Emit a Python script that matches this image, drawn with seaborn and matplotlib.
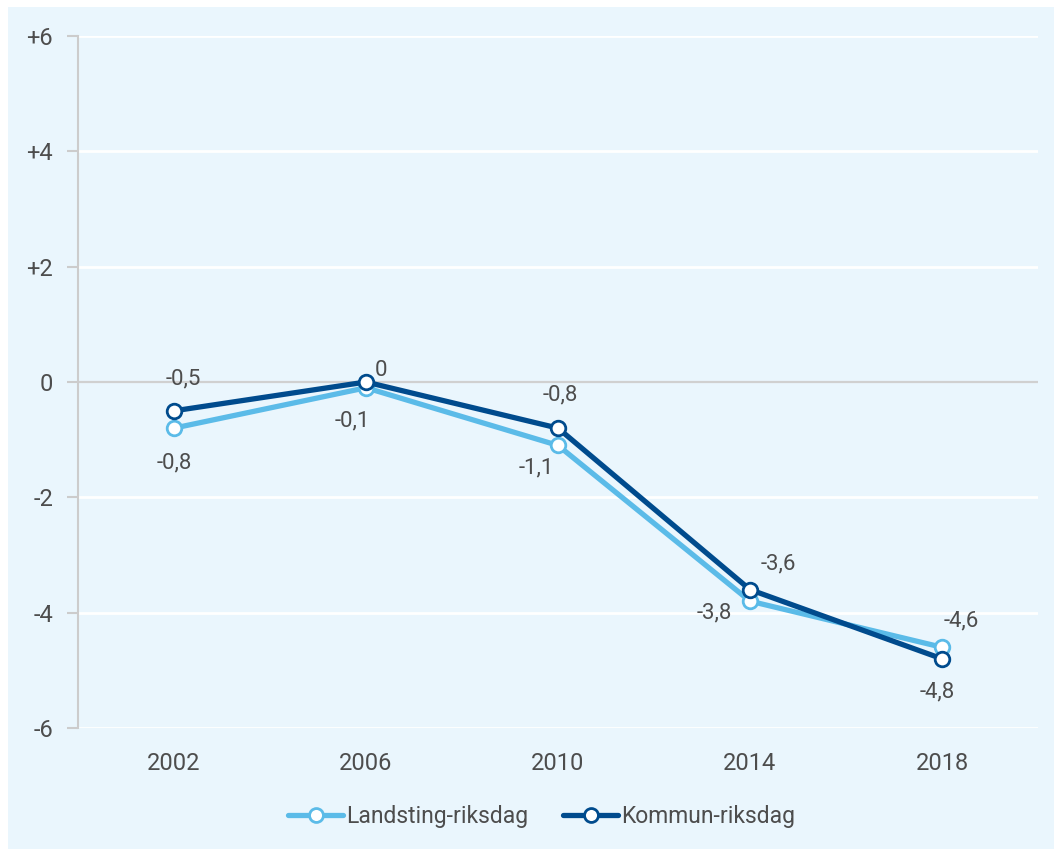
import matplotlib
matplotlib.use("Agg")
import matplotlib.pyplot as plt
from matplotlib.lines import Line2D
from matplotlib.patches import Rectangle
import seaborn as sns
import pandas as pd

years = ["2002", "2006", "2010", "2014", "2018"]
landsting = [-0.8, -0.1, -1.1, -3.8, -4.6]
kommun = [-0.5, 0.0, -0.8, -3.6, -4.8]
labels_landsting = ["-0,8", "-0,1", "-1,1", "-3,8", "-4,6"]
labels_kommun = ["-0,5", "0", "-0,8", "-3,6", "-4,8"]
yticks = [6, 4, 2, 0, -2, -4, -6]
ytick_labels = ["+6", "+4", "+2", "0", "-2", "-4", "-6"]
series_names = ["Landsting-riksdag", "Kommun-riksdag"]

light = "#5BBBE8"
dark = "#004B8D"
bg = "#EAF6FD"
txt = "#4D4D4D"

sns.set_theme(style="white")
plt.rcParams["font.family"] = ["Roboto", "DejaVu Sans"]

fig = plt.figure(figsize=(10.54, 8.49), dpi=100, facecolor="white")
fig.patches.append(Rectangle((8 / 1054, 0), 1 - 8 / 1054, 1 - 7 / 849,
                             transform=fig.transFigure, facecolor=bg,
                             edgecolor="none", zorder=-10))
ax = fig.add_axes([78 / 1054, 1 - 728 / 849, (1038 - 78) / 1054, (728 - 36) / 849])
ax.set_facecolor(bg)

df = pd.DataFrame({
    "year": years * 2,
    "value": landsting + kommun,
    "series": [series_names[0]] * len(years) + [series_names[1]] * len(years),
})

for name, col in zip(series_names, [light, dark]):
    sub = df[df["series"] == name]
    sns.lineplot(data=sub, x="year", y="value", ax=ax, color=col, lw=3.8,
                 marker="o", markersize=10.5, markerfacecolor="white",
                 markeredgecolor=col, markeredgewidth=2.0, sort=False,
                 zorder=3 if name == series_names[1] else 2, legend=False)

ax.set_xlim(-0.5, 4.5)
ax.set_ylim(-6, 6)
ax.set_yticks(yticks)
ax.set_yticklabels(ytick_labels)
ax.set_xlabel("")
ax.set_ylabel("")

for y in yticks:
    if y == 0:
        ax.axhline(0, color="#D0D0D0", lw=1.6, zorder=1)
    else:
        ax.axhline(y, color="white", lw=2.0, zorder=1)

for s in ["top", "right", "bottom"]:
    ax.spines[s].set_visible(False)
ax.spines["left"].set_color("#CCCCCC")
ax.spines["left"].set_linewidth(1.5)
ax.tick_params(axis="y", left=True, length=8, width=1.5, color="#CCCCCC",
               labelsize=17, labelcolor=txt, pad=10)
ax.tick_params(axis="x", bottom=False, labelsize=17, labelcolor=txt, pad=11)

fs = 16
off_l = [(0, -35), (-14, -33), (-22, -23), (-36, -12), (19, 26)]
off_k = [(9, 32), (15, 12), (2, 33), (28, 26), (-5, -33)]
for i, (v, lab, o) in enumerate(zip(landsting, labels_landsting, off_l)):
    ax.annotate(lab, (i, v), xytext=o, textcoords="offset pixels",
                ha="center", va="center", fontsize=fs, color=txt)
for i, (v, lab, o) in enumerate(zip(kommun, labels_kommun, off_k)):
    ax.annotate(lab, (i, v), xytext=o, textcoords="offset pixels",
                ha="center", va="center", fontsize=fs, color=txt)

handles = [Line2D([], [], color=c, lw=3.8, marker="o", markersize=10,
                  markerfacecolor="white", markeredgecolor=c, markeredgewidth=2.0,
                  solid_capstyle="round")
           for c in [light, dark]]
leg = fig.legend(handles, series_names, loc="center", bbox_to_anchor=(0.514, 1 - 817 / 849),
                 ncol=2, frameon=False, fontsize=16.5, handlelength=2.4,
                 handletextpad=0.15, columnspacing=1.5)
for t in leg.get_texts():
    t.set_color(txt)

fig.savefig("out.png", dpi=100, facecolor="white")
